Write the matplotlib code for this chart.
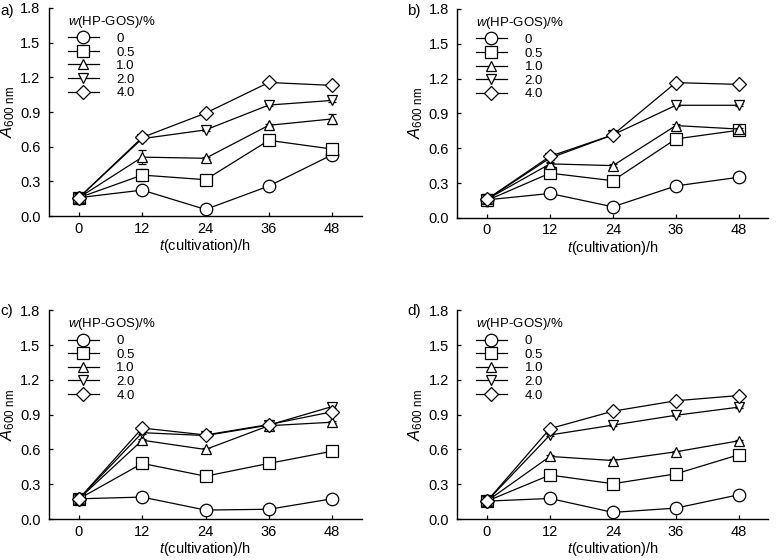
import matplotlib
matplotlib.use("Agg")
import matplotlib.pyplot as plt
import numpy as np

plt.rcParams['font.family'] = ['Liberation Sans', 'DejaVu Sans']
plt.rcParams['mathtext.fontset'] = 'custom'
plt.rcParams['mathtext.rm'] = 'Liberation Sans'
plt.rcParams['mathtext.it'] = 'Liberation Sans:italic'

hours = [0, 12, 24, 36, 48]
series_labels = ["0", "0.5", "1.0", "2.0", "4.0"]
panel_labels = ["a)", "b)", "c)", "d)"]

# panel a
a_0 = [0.16, 0.225, 0.058, 0.26, 0.53]
a_05 = [0.16, 0.355, 0.315, 0.655, 0.58]
a_10 = [0.16, 0.51, 0.50, 0.785, 0.84]
a_20 = [0.16, 0.67, 0.745, 0.96, 1.00]
a_40 = [0.16, 0.68, 0.89, 1.155, 1.13]
a_err = [[0.01, 0.02, 0.01, 0.01, 0.02],
         [0.01, 0.055, 0.01, 0.02, 0.01],
         [0.01, 0.06, 0.01, 0.01, 0.04],
         [0.01, 0.02, 0.01, 0.01, 0.01],
         [0.01, 0.02, 0.01, 0.01, 0.01]]

# panel b
b_0 = [0.155, 0.21, 0.095, 0.275, 0.35]
b_05 = [0.15, 0.385, 0.32, 0.68, 0.755]
b_10 = [0.16, 0.465, 0.45, 0.795, 0.765]
b_20 = [0.16, 0.515, 0.715, 0.97, 0.97]
b_40 = [0.16, 0.53, 0.715, 1.165, 1.15]
b_err = [[0.01, 0.02, 0.01, 0.01, 0.01],
         [0.01, 0.03, 0.01, 0.01, 0.01],
         [0.01, 0.02, 0.01, 0.01, 0.01],
         [0.01, 0.04, 0.01, 0.01, 0.01],
         [0.01, 0.03, 0.01, 0.01, 0.01]]

# panel c
c_0 = [0.175, 0.19, 0.078, 0.085, 0.175]
c_05 = [0.175, 0.48, 0.37, 0.48, 0.585]
c_10 = [0.175, 0.68, 0.60, 0.805, 0.835]
c_20 = [0.175, 0.745, 0.72, 0.81, 0.97]
c_40 = [0.175, 0.785, 0.725, 0.815, 0.925]
c_err = [[0.01, 0.01, 0.01, 0.01, 0.02],
         [0.01, 0.01, 0.01, 0.01, 0.01],
         [0.01, 0.01, 0.01, 0.01, 0.01],
         [0.01, 0.01, 0.01, 0.01, 0.01],
         [0.01, 0.01, 0.02, 0.01, 0.01]]

# panel d
d_0 = [0.155, 0.178, 0.058, 0.095, 0.21]
d_05 = [0.155, 0.38, 0.305, 0.39, 0.555]
d_10 = [0.155, 0.54, 0.505, 0.58, 0.675]
d_20 = [0.155, 0.725, 0.81, 0.895, 0.965]
d_40 = [0.155, 0.78, 0.93, 1.02, 1.065]
d_err = [[0.01, 0.01, 0.01, 0.01, 0.02],
         [0.01, 0.01, 0.01, 0.01, 0.01],
         [0.01, 0.01, 0.01, 0.01, 0.01],
         [0.01, 0.01, 0.01, 0.01, 0.01],
         [0.01, 0.01, 0.01, 0.01, 0.01]]

panels = [
    [a_0, a_05, a_10, a_20, a_40],
    [b_0, b_05, b_10, b_20, b_40],
    [c_0, c_05, c_10, c_20, c_40],
    [d_0, d_05, d_10, d_20, d_40],
]
errors = [a_err, b_err, c_err, d_err]

markers = ['o', 's', '^', 'v', 'D']
msizes = [9, 8.5, 7.5, 7.5, 7]

fig = plt.figure(figsize=(7.76, 5.6), dpi=100)
positions = [
    (0.063, 0.614, 0.403, 0.372),
    (0.589, 0.611, 0.401, 0.373),
    (0.063, 0.073, 0.403, 0.373),
    (0.589, 0.073, 0.401, 0.373),
]
label_pos = [(0.0, 0.98), (0.525, 0.98), (0.0, 0.445), (0.525, 0.445)]

for k, pos in enumerate(positions):
    ax = fig.add_axes(pos)
    for i, ys in enumerate(panels[k]):
        ax.errorbar(hours, ys, yerr=errors[k][i], color='black', lw=0.9,
                    marker=markers[i], ms=msizes[i], mfc='white', mec='black',
                    mew=0.9, capsize=3, elinewidth=0.9, label=series_labels[i],
                    zorder=3 + i)
    ax.set_xlim(-5.7, 53.6)
    ax.set_ylim(0, 1.8)
    ax.set_xticks(hours)
    ax.set_yticks([0.0, 0.3, 0.6, 0.9, 1.2, 1.5, 1.8])
    ax.set_yticklabels(['0.0', '0.3', '0.6', '0.9', '1.2', '1.5', '1.8'])
    ax.tick_params(direction='in', length=3, width=0.9, labelsize=10.5)
    ax.tick_params(axis='x', pad=4)
    ax.tick_params(axis='y', pad=6)
    for side in ['top', 'right']:
        ax.spines[side].set_visible(False)
    for side in ['left', 'bottom']:
        ax.spines[side].set_linewidth(1.0)
    ax.set_xlabel(r'$\it{t}$(cultivation)/h', fontsize=10.5, labelpad=1)
    ax.set_ylabel(r'$\it{A}_{\rm 600\ nm}$', fontsize=12, labelpad=2)
    handles, labels = ax.get_legend_handles_labels()
    handles = [h[0] if isinstance(h, tuple) else h for h in handles]
    leg = ax.legend(handles, labels, title=r'$\it{w}$(HP-GOS)/%',
                    loc='upper left', bbox_to_anchor=(0.03, 1.015),
                    frameon=False, fontsize=9.5, title_fontsize=9.5,
                    handlelength=2.4, handletextpad=1.3, labelspacing=0.1,
                    borderaxespad=0.3)
    leg._legend_box.align = 'left'
    leg._legend_box.sep = 2
    fig.text(label_pos[k][0], label_pos[k][1], panel_labels[k], fontsize=11,
             va='center', ha='left')

fig.savefig('out.png', dpi=100)
